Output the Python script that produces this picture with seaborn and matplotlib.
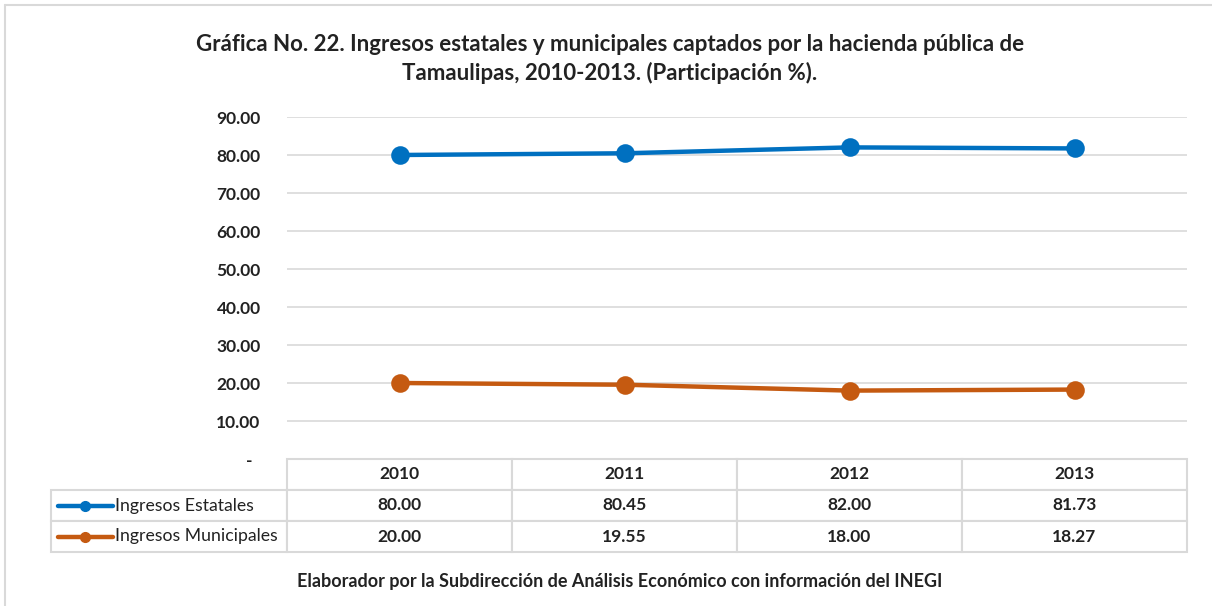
import numpy as np
import pandas as pd
import matplotlib
matplotlib.use("Agg")
import matplotlib.pyplot as plt
from matplotlib.lines import Line2D
import seaborn as sns

# data
years = ["2010", "2011", "2012", "2013"]
estatales = [80.00, 80.45, 82.00, 81.73]
municipales = [20.00, 19.55, 18.00, 18.27]
series_names = ["Ingresos Estatales", "Ingresos Municipales"]
series_colors = ["#0070C0", "#C55A11"]
y_ticks = [0, 10, 20, 30, 40, 50, 60, 70, 80, 90]

title = ("Gráfica No. 22. Ingresos estatales y municipales captados por la hacienda pública de\n"
         "Tamaulipas, 2010-2013. (Participación %).")
footer = "Elaborador por la Subdirección de Análisis Económico con información del INEGI"

df = pd.DataFrame({
    "year": years * 2,
    "value": estatales + municipales,
    "serie": [series_names[0]] * 4 + [series_names[1]] * 4,
})

sns.set_style("white")
plt.rcParams["font.family"] = ["Lato", "DejaVu Sans"]

W, H = 1212, 606
fig = plt.figure(figsize=(W / 100, H / 100), dpi=100)
# plot area in pixels: x 287..1187, y 117..459
ax = fig.add_axes([287 / W, 1 - 459 / H, 900 / W, 342 / H])

sns.pointplot(data=df, x="year", y="value", hue="serie", palette=series_colors,
              markers="o", linestyles="-", markersize=11, linewidth=3.2, ax=ax)
ax.get_legend().remove()

ax.set_ylim(0, 90)
ax.set_xlim(-0.5, len(years) - 0.5)
ax.set_yticks(y_ticks)
ax.set_yticklabels([f"{v:.2f}" if v else "-  " for v in y_ticks],
                   fontsize=12.5, fontweight="bold", color="#222222")
ax.set_xticks([])
ax.set_xlabel("")
ax.set_ylabel("")
ax.tick_params(axis="y", length=0, pad=19)
ax.yaxis.grid(True, color="#D9D9D9", linewidth=1.2)
ax.set_axisbelow(True)
for s in ax.spines.values():
    s.set_visible(False)

# data table under the chart
label_w = 236 / 900
row_h = 31 / 342
cell_text = [[""] + years,
             [""] + [f"{v:.2f}" for v in estatales],
             [""] + [f"{v:.2f}" for v in municipales]]
tbl = ax.table(cellText=cell_text, cellLoc="center",
               colWidths=[236] + [225] * len(years),
               bbox=[-label_w, -3 * row_h, 1 + label_w, 3 * row_h])
tbl.auto_set_font_size(False)
for (r, c), cell in tbl.get_celld().items():
    cell.set_edgecolor("#D9D9D9")
    cell.set_linewidth(1.5)
    cell.get_text().set_fontsize(12.5)
    cell.get_text().set_fontweight("bold")
    cell.get_text().set_color("#222222")
    if r == 0 and c == 0:
        cell.visible_edges = ""

# legend keys in the label column
for i, (name, col) in enumerate(zip(series_names, series_colors)):
    yc = -(1.5 + i) * row_h
    x0 = -label_w + 7 / 900
    x1 = -label_w + 62 / 900
    ax.add_line(Line2D([x0, x1], [yc, yc], color=col, linewidth=3.2,
                       transform=ax.transAxes, clip_on=False))
    ax.add_line(Line2D([(x0 + x1) / 2], [yc], color=col, marker="o", markersize=7,
                       transform=ax.transAxes, clip_on=False))
    ax.text(x1 + 2 / 900, yc, name, transform=ax.transAxes, ha="left", va="center",
            fontsize=12.7, color="#222222")

fig.text(610 / W, 1 - 59 / H, title, ha="center", va="center", fontsize=16,
         fontweight="bold", color="#222222", linespacing=1.33)
fig.text(620 / W, 1 - 582 / H, footer, ha="center", va="center", fontsize=13,
         fontweight="bold", color="#222222")

# outer frame (top and left edges visible)
fig.add_artist(Line2D([5 / W, 1], [1 - 5 / H, 1 - 5 / H], color="#D9D9D9", linewidth=1.5))
fig.add_artist(Line2D([5 / W, 5 / W], [0, 1 - 5 / H], color="#D9D9D9", linewidth=1.5))

fig.savefig("out.png", dpi=100)
